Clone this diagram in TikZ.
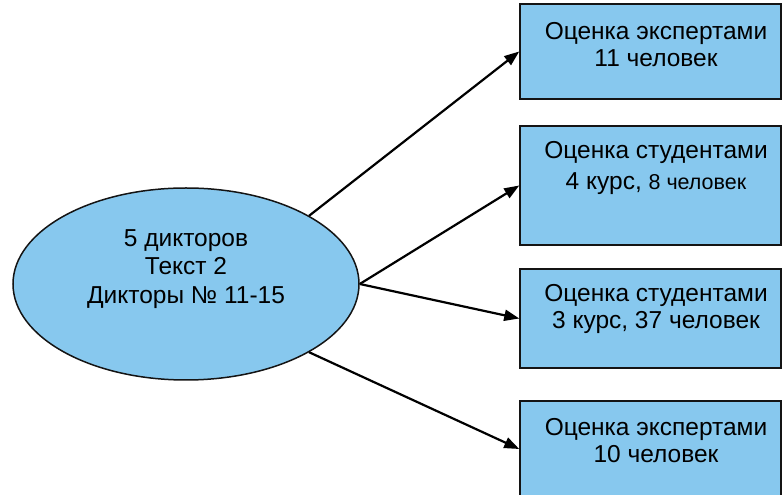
\documentclass[tikz,border=0pt]{standalone}
\usepackage{fontspec}
\setmainfont{Liberation Sans}
\usetikzlibrary{shapes.geometric,arrows.meta}
\definecolor{skyfill}{RGB}{135,200,238}
\definecolor{edgecol}{RGB}{20,20,20}
\begin{document}
\begin{tikzpicture}[x=1pt,y=1pt,
  boxstyle/.style={draw=edgecol,fill=skyfill,line width=1.5pt,rectangle,inner sep=0pt,minimum width=261pt},
  ovalstyle/.style={draw=edgecol,fill=skyfill,line width=1.5pt,ellipse,inner sep=0pt,minimum width=346pt,minimum height=192pt},
  txt/.style={align=center,font=\fontsize{24.5}{27}\selectfont,inner sep=0pt},
  conn/.style={line width=2.2pt,-{Triangle[length=15pt,width=11pt]}}]
\useasboundingbox (0,0) rectangle (782,495);
\node[ovalstyle] (e) at (186,211) {};
\node[txt,font=\fontsize{24.5}{28.5}\selectfont] (et) at (186,226) {5 дикторов\\Текст 2\\Дикторы № 11-15};
\node[boxstyle,minimum height=95pt] (b1) at (650.5,443.5) {};
\node[boxstyle,minimum height=119pt] (b2) at (650.5,309.5) {};
\node[boxstyle,minimum height=99pt] (b3) at (650.5,176.5) {};
\node[boxstyle,minimum height=96pt] (b4) at (650.5,46) {};
\node[txt] (t1) at (656,450) {Оценка экспертами\\11 человек};
\node[txt,font=\fontsize{24.5}{31}\selectfont] (t2) at (656,327.5) {Оценка студентами\\4 курс, {\fontsize{21.5}{31}\selectfont 8 человек}};
\node[txt] (t3) at (656,186) {Оценка студентами\\3 курс, 37 человек};
\node[txt] (t4) at (656,54.5) {Оценка экспертами\\10 человек};
\draw[conn] (e.29.5) -- (b1.west);
\draw[conn] (e.east) -- (b2.west);
\draw[conn] (e.east) -- (b3.west);
\draw[conn] (e.-29) -- (b4.west);
\end{tikzpicture}
\end{document}
